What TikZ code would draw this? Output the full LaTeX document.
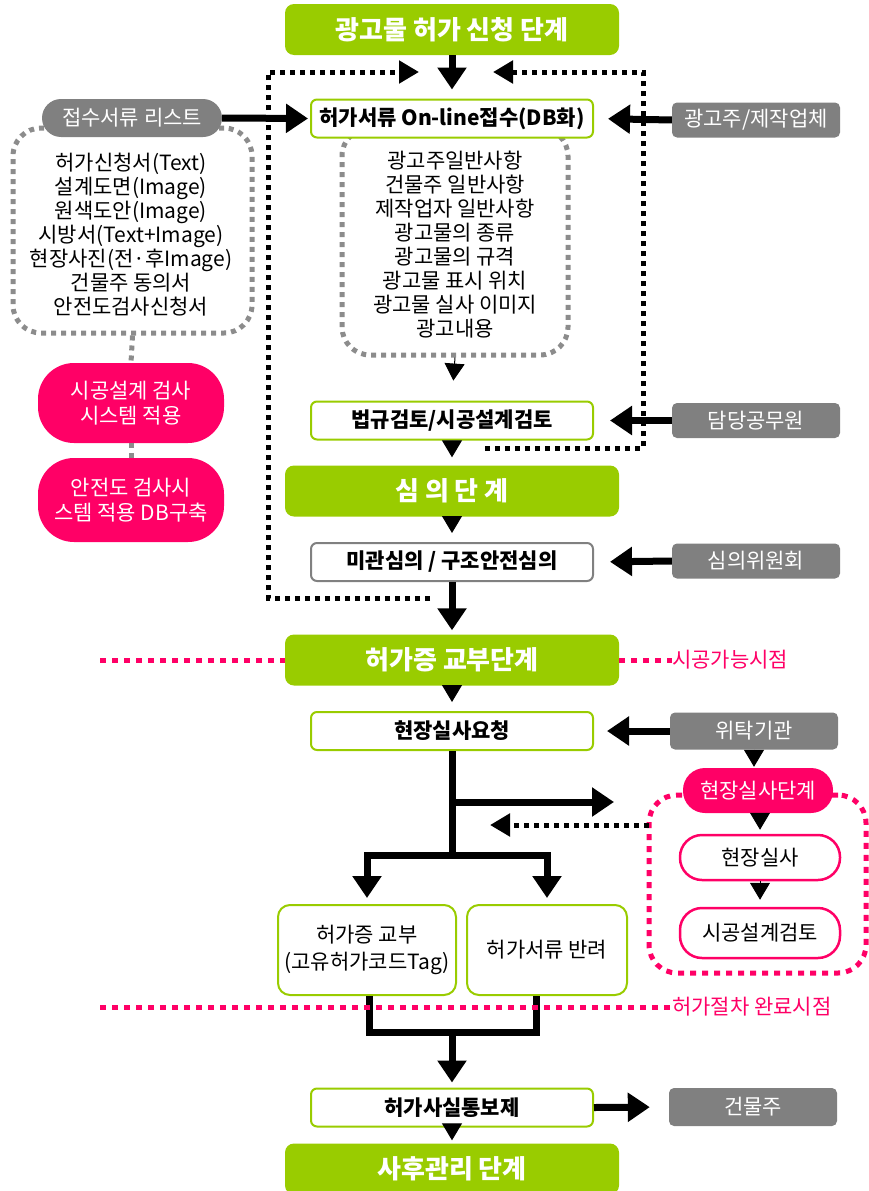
\documentclass[tikz,border=0pt]{standalone}
\usepackage{fontspec}
\setmainfont{Noto Sans CJK KR}
\usetikzlibrary{arrows.meta}
\definecolor{lgreen}{HTML}{99CC00}
\definecolor{hpink}{HTML}{FF0066}
\definecolor{boxgray}{HTML}{808080}
\definecolor{dotgray}{HTML}{8C8C8C}
\tikzset{
 stage/.style={fill=lgreen, rounded corners=9pt, minimum width=334pt, minimum height=51pt, inner sep=0pt, text=white, font=\fontsize{26}{30}\selectfont\bfseries},
 proc/.style={draw=lgreen, line width=2pt, fill=white, rounded corners=6pt, minimum width=282pt, minimum height=38pt, inner sep=0pt, font=\fontsize{21}{25}\selectfont\bfseries},
 actor/.style={fill=boxgray, rounded corners=5pt, minimum width=168pt, minimum height=35pt, inner sep=0pt, text=white, font=\fontsize{21}{25}\selectfont},
 pinkpill/.style={fill=hpink, rounded corners=22pt, inner sep=0pt, text=white, align=center, font=\fontsize{21}{25}\selectfont},
 pinkbox/.style={draw=hpink, line width=2.5pt, fill=white, rounded corners=22pt, inner sep=0pt, minimum width=160pt, font=\fontsize{21}{25}\selectfont},
 listrect/.style={draw=dotgray, line width=5pt, dash pattern=on 5pt off 5pt, rounded corners=28pt, inner sep=0pt},
 listtext/.style={align=center, inner sep=0pt, font=\fontsize{21}{24}\selectfont},
 bigarrow/.style={line width=7pt, -{Triangle[length=22pt,width=28pt]}},
 tri/.style={line width=1pt, -{Triangle[length=17pt,width=20pt]}},
 blkdot/.style={line width=5pt, dash pattern=on 5pt off 5pt},
 dotarrow/.style={blkdot, -{Triangle[length=20pt,width=22pt]}},
 pinkdot/.style={draw=hpink, line width=5pt, dash pattern=on 6pt off 6pt},
 graydot/.style={draw=dotgray, line width=5pt, dash pattern=on 5pt off 5pt},
 pinklabel/.style={text=hpink, anchor=west, inner sep=0pt, font=\fontsize{21}{25}\selectfont},
 plain/.style={line width=7pt},
}
\begin{document}
\begin{tikzpicture}[x=1pt,y=-1pt]
\useasboundingbox (0,0) rectangle (869,1191);

% feedback dotted loops
\coordinate (fbL0) at (430,598);
\coordinate (fbL1) at (268,598);
\coordinate (fbL2) at (268,72);
\coordinate (fbL3) at (419,72);
\draw[dotarrow] (fbL0) -- (fbL1) -- (fbL2) -- (fbL3);
\coordinate (fbR0) at (485,448);
\coordinate (fbR1) at (643,448);
\coordinate (fbR2) at (643,72);
\coordinate (fbR3) at (493,72);
\draw[dotarrow] (fbR0) -- (fbR1) -- (fbR2) -- (fbR3);

% stages
\node[stage] (s1) at (452,29.5) {광고물 허가 신청 단계};
\node[stage] (s2) at (452,491) {심 의 단 계};
\node[stage] (s3) at (452,660) {허가증 교부단계};
\node[stage] (s4) at (452,1169) {사후관리 단계};

% list boxes
\node[listrect, minimum width=239pt, minimum height=205pt] (llist) at (132.5,230.5) {};
\node[listtext] (ltext) at (131,235) {허가신청서(Text)\\설계도면(Image)\\원색도안(Image)\\시방서(Text+Image)\\현장사진(전·후Image)\\건물주 동의서\\안전도검사신청서};
\node[listrect, minimum width=226pt, minimum height=227pt] (mlist) at (455,241.5) {};
\node[listtext] (mtext) at (455,245) {광고주일반사항\\건물주 일반사항\\제작업자 일반사항\\광고물의 종류\\광고물의 규격\\광고물 표시 위치\\광고물 실사 이미지\\광고내용};

% process boxes
\node[proc] (online) at (452,118.5) {허가서류 On-line접수(DB화)};
\node[proc] (law) at (452,420.5) {법규검토/시공설계검토};
\node[proc, draw=boxgray] (review) at (452,562) {미관심의 / 구조안전심의};
\node[proc] (req) at (452,731) {현장실사요청};
\node[proc] (notify) at (452,1107.5) {허가사실통보제};
\node[proc, minimum width=178pt, minimum height=90pt, rounded corners=12pt, align=center, font=\fontsize{21}{27}\selectfont] (permit) at (367,950) {허가증 교부\\(고유허가코드Tag)};
\node[proc, minimum width=160pt, minimum height=90pt, rounded corners=12pt, font=\fontsize{21}{25}\selectfont] (reject) at (547,950) {허가서류 반려};

% actor boxes
\node[pinkpill, fill=boxgray, minimum width=180pt, minimum height=38pt, rounded corners=19pt] (docs) at (132,118) {접수서류 리스트};
\node[actor] (adv) at (756,120) {광고주/제작업체};
\node[actor] (officer) at (756,420.5) {담당공무원};
\node[actor] (comm) at (756,561) {심의위원회};
\node[actor, minimum height=37pt] (agent) at (754,731) {위탁기관};
\node[actor, minimum height=38pt] (owner) at (753,1107) {건물주};

% left pink pills
\node[pinkpill, minimum width=186pt, minimum height=80pt, rounded corners=36pt] (p1) at (131,403) {시공설계 검사\\시스템 적용};
\node[pinkpill, minimum width=186pt, minimum height=84pt, rounded corners=36pt] (p2) at (131,500) {안전도 검사시\\스템 적용 DB구축};
\draw[graydot] (llist.south) -- (p1.north);
\draw[graydot] (p1.south) -- (p2.north);

% on-site inspection group
\node[listrect, draw=hpink, dash pattern=on 6pt off 6pt, minimum width=217pt, minimum height=178pt] (site) at (757.5,884) {};
\node[pinkpill, minimum width=150pt, minimum height=45pt] (sitestage) at (758,790.5) {현장실사단계};
\node[pinkbox, minimum height=45pt] (insp) at (760,857.5) {현장실사};
\node[pinkbox, minimum height=50pt] (design) at (760,933) {시공설계검토};

% main flow arrows
\draw[bigarrow, shorten >=9pt] (s1.south) -- (online.north);
\draw[bigarrow, shorten >=2pt] (docs.east) -- (online.west);
\draw[bigarrow, shorten >=14pt] (adv.west) -- (online.east);
\draw[tri, shorten >=20pt] (mlist.south) -- (law.north);
\draw[bigarrow, shorten >=16pt] (officer.west) -- (law.east);
\draw[tri, shorten >=8pt] (law.south) -- (s2.north);
\draw[tri, shorten >=9pt] (s2.south) -- (review.north);
\draw[bigarrow, shorten >=16pt] (comm.west) -- (review.east);
\draw[bigarrow, shorten >=4pt] (review.south) -- (s3.north);
\draw[tri, shorten >=9pt] (s3.south) -- (req.north);
\draw[bigarrow, shorten >=13pt] (agent.west) -- (req.east);
\draw[tri, shorten >=1pt] (agent.south) -- (sitestage.north -| agent.south);
\draw[tri, shorten >=4pt] (sitestage.south -| insp.north) -- (insp.north);
\draw[tri, shorten >=7pt] (insp.south) -- (design.north);

% branch
\coordinate (br) at (452,855);
\coordinate (brR) at (452,802);
\coordinate (brRt) at (614,802);
\draw[plain] (req.south) -- ([yshift=3.5pt]br);
\draw[bigarrow] (brR) -- (brRt);
\draw[bigarrow, line join=miter, shorten >=6pt] (br) -| (permit.north);
\draw[bigarrow, line join=miter, shorten >=6pt] (br) -| (reject.north);
\coordinate (dA) at (649,825);
\coordinate (dB) at (490,825);
\draw[dotarrow] (dA) -- (dB);

% merge
\coordinate (m1) at ([xshift=2pt]permit.south);
\coordinate (m2) at ([xshift=-11pt]reject.south);
\coordinate (mg) at (452,1032);
\draw[plain, line join=miter] (m1) -- (m1 |- mg) -- (m2 |- mg) -- (m2);
\draw[bigarrow, shorten >=5pt] ([yshift=-3.5pt]mg) -- (notify.north);
\draw[bigarrow, shorten >=19pt] (notify.east) -- (owner.west);
\draw[tri, shorten >=3pt] (notify.south) -- (s4.north);

% milestone lines
\node[pinklabel] (ml1) at (672,660) {시공가능시점};
\node[pinklabel] (ml2) at (672,1007) {허가절차 완료시점};
\coordinate (pl1) at (100,660);
\coordinate (pl2) at (100,1007);
\draw[pinkdot] (pl1) -- (s3.west);
\draw[pinkdot] (s3.east) -- (ml1.west);
\draw[pinkdot] (pl2) -- (ml2.west);
\end{tikzpicture}
\end{document}
